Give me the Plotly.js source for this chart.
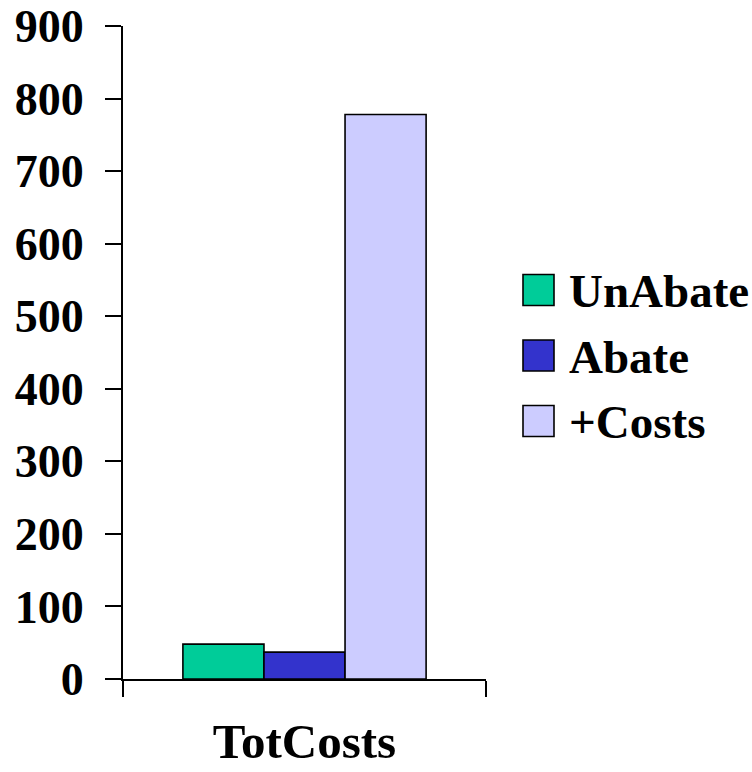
<!DOCTYPE html>
<html>
<head>
<meta charset="utf-8">
<script src="https://cdn.plot.ly/plotly-3.0.1.min.js"></script>
<style>
  html, body { margin: 0; padding: 0; background: #ffffff; }
  #chart { width: 752px; height: 772px; }
</style>
</head>
<body>
<div id="chart"></div>
<script>
// Total costs by scenario
const categories = ['TotCosts'];
const seriesNames = ['UnAbate', 'Abate', '+Costs'];
const unAbate = [48];
const abate = [37];
const plusCosts = [778];
const yTicks = [0, 100, 200, 300, 400, 500, 600, 700, 800, 900];

const colors = ['#00CC99', '#3333CC', '#CCCCFF'];
const seriesValues = [unAbate, abate, plusCosts];

const W = 752, H = 772;
const M = { l: 123, r: 266, t: 26, b: 93 };
const plotW = W - M.l - M.r;
const plotH = H - M.t - M.b;

const fontFamily = '"Liberation Serif", "Times New Roman", serif';

const traces = seriesNames.map((name, i) => ({
  type: 'bar',
  name: name,
  x: categories,
  y: seriesValues[i],
  marker: { color: colors[i], line: { color: '#000000', width: 1.6 } },
  showlegend: false,
  hoverinfo: 'skip'
}));

// Legend drawn as large swatches with labels on the right of the plot
const px2x = px => (px - M.l) / plotW;
const py2y = py => (H - M.b - py) / plotH;
const legendCenters = [290, 355.5, 421];
const shapes = [];
const annotations = [];
seriesNames.forEach((name, i) => {
  const cy = legendCenters[i];
  shapes.push({
    type: 'rect', xref: 'paper', yref: 'paper',
    x0: px2x(523), x1: px2x(554),
    y0: py2y(cy + 15.5), y1: py2y(cy - 15.5),
    fillcolor: colors[i],
    line: { color: '#000000', width: 1.6 }
  });
  annotations.push({
    xref: 'paper', yref: 'paper',
    x: px2x(567), y: py2y(cy + 1),
    xanchor: 'left', yanchor: 'middle',
    text: name, showarrow: false,
    font: { family: fontFamily, size: 47, color: '#000000', weight: 'bold' }
  });
});

const layout = {
  width: W, height: H,
  margin: M,
  paper_bgcolor: '#ffffff',
  plot_bgcolor: '#ffffff',
  barmode: 'group',
  bargap: 0.33,
  bargroupgap: 0,
  showlegend: false,
  font: { family: fontFamily, color: '#000000', weight: 'bold' },
  xaxis: {
    type: 'category',
    range: [-0.5, 0.5],
    showline: true, linecolor: '#000000', linewidth: 2,
    ticks: 'outside', tickson: 'boundaries', ticklen: 16, tickwidth: 2, tickcolor: '#000000',
    showgrid: false, zeroline: false,
    tickfont: { family: fontFamily, size: 49, color: '#000000', weight: 'bold' },
    ticklabelstandoff: 18
  },
  yaxis: {
    range: [0, 900],
    tickvals: yTicks,
    ticktext: yTicks.map(String),
    showline: true, linecolor: '#000000', linewidth: 2,
    ticks: 'outside', ticklen: 16, tickwidth: 2, tickcolor: '#000000',
    showgrid: false, zeroline: false,
    tickfont: { family: fontFamily, size: 46, color: '#000000', weight: 'bold' },
    ticklabelstandoff: 12
  },
  shapes: shapes,
  annotations: annotations
};

Plotly.newPlot('chart', traces, layout, { staticPlot: true, displayModeBar: false });
</script>
</body>
</html>
